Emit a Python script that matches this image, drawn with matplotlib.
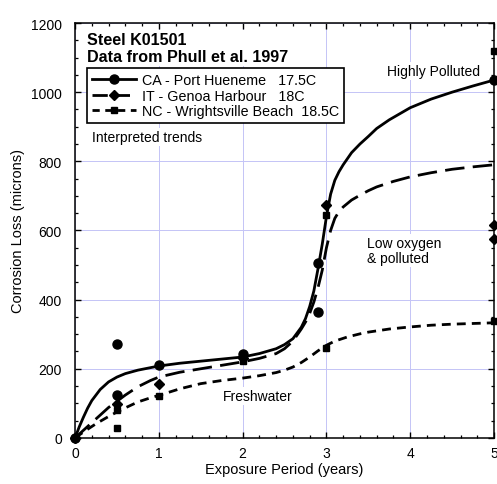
import matplotlib
matplotlib.use("Agg")
import matplotlib.pyplot as plt
from matplotlib.lines import Line2D
from matplotlib.ticker import MultipleLocator

plt.rcParams.update({
    "font.family": ["Liberation Sans", "DejaVu Sans"],
    "font.size": 10,
    "axes.linewidth": 1.1,
    "xtick.direction": "in",
    "ytick.direction": "in",
    "xtick.top": True,
    "ytick.right": True,
    "xtick.major.size": 4.5,
    "ytick.major.size": 4.5,
    "xtick.minor.size": 2.5,
    "ytick.minor.size": 2.5,
    "xtick.major.width": 1.0,
    "ytick.major.width": 1.0,
    "xtick.minor.width": 0.9,
    "ytick.minor.width": 0.9,
    "xtick.major.pad": 6,
    "ytick.major.pad": 9.5,
    "lines.solid_joinstyle": "round",
    "lines.dash_joinstyle": "round",
})

# measured data (years, microns)
ca_x = [0, 0.5, 0.5, 1, 2, 2.9, 2.9, 5]
ca_y = [0, 272, 123, 212, 242, 507, 364, 1035]
it_x = [0, 0.5, 1, 2, 3, 5, 5]
it_y = [0, 99, 157, 231, 673, 615, 574]
nc_x = [0, 0.5, 0.5, 1, 2, 3, 3, 5, 5]
nc_y = [0, 80, 29, 121, 223, 644, 260, 1120, 338]

# interpreted trend curves
ca_fit_x = [0, 0.05, 0.1, 0.15, 0.2, 0.3, 0.4, 0.5, 0.6, 0.75, 1, 1.25, 1.5, 1.75,
            2, 2.2, 2.4, 2.5, 2.6, 2.7, 2.75, 2.8, 2.85, 2.9, 2.95, 3.0, 3.05,
            3.1, 3.15, 3.2, 3.3, 3.4, 3.5, 3.6, 3.75, 4.0, 4.25, 4.5, 4.75, 5]
ca_fit_y = [0, 32, 60, 86, 108, 140, 162, 176, 186, 196, 208, 216, 222, 228,
            234, 244, 258, 270, 287, 320, 345, 380, 425, 490, 560, 640, 705,
            745, 770, 790, 825, 850, 872, 895, 920, 955, 980, 1000, 1018, 1035]
it_fit_x = [0, 0.1, 0.25, 0.4, 0.5, 0.6, 0.75, 0.9, 1, 1.25, 1.5, 1.75, 2, 2.2,
            2.4, 2.5, 2.6, 2.7, 2.75, 2.8, 2.85, 2.9, 2.95, 3.0, 3.05, 3.1, 3.15,
            3.2, 3.3, 3.4, 3.5, 3.6, 3.8, 4.0, 4.25, 4.5, 4.75, 5]
it_fit_y = [0, 22, 55, 88, 106, 124, 148, 166, 176, 190, 200, 210, 220, 230,
            244, 258, 280, 315, 335, 360, 393, 435, 485, 550, 600, 635, 655,
            668, 688, 702, 715, 726, 742, 755, 767, 777, 784, 790]
nc_fit_x = [0, 0.1, 0.25, 0.4, 0.5, 0.6, 0.75, 0.9, 1, 1.25, 1.5, 1.75, 2, 2.2,
            2.4, 2.5, 2.6, 2.7, 2.8, 2.9, 3.0, 3.1, 3.25, 3.4, 3.5, 3.75, 4.0,
            4.25, 4.5, 4.75, 5]
nc_fit_y = [0, 17, 41, 62, 75, 87, 104, 116, 123, 142, 157, 166, 173, 180,
            189, 196, 205, 218, 234, 252, 268, 280, 292, 301, 306, 315, 321,
            326, 329, 331, 333]

LONG = (7.0, 3.0)
SHORT = (3.2, 2.2)

fig = plt.figure(figsize=(4.97, 4.85), dpi=100)
ax = fig.add_axes([0.151, 0.095, 0.843, 0.8555])

ax.grid(True, which="major", color="#c4c4f6", linewidth=0.7)
ax.set_axisbelow(True)

ax.plot(ca_fit_x, ca_fit_y, color="black", linewidth=2.0)
ax.plot(it_fit_x, it_fit_y, color="black", linewidth=2.0, dashes=LONG)
ax.plot(nc_fit_x, nc_fit_y, color="black", linewidth=2.0, dashes=SHORT)

ax.plot(ca_x, ca_y, "o", color="black", markersize=6.5, clip_on=False, zorder=5)
ax.plot(it_x, it_y, "D", color="black", markersize=4.8, clip_on=False, zorder=5)
ax.plot(nc_x, nc_y, "s", color="black", markersize=4.8, clip_on=False, zorder=5)

ax.set_xlim(0, 5)
ax.set_ylim(0, 1200)
ax.xaxis.set_major_locator(MultipleLocator(1))
ax.xaxis.set_minor_locator(MultipleLocator(0.2))
ax.yaxis.set_major_locator(MultipleLocator(200))
ax.yaxis.set_minor_locator(MultipleLocator(50))
ax.set_xlabel("Exposure Period (years)", fontsize=10.5, labelpad=1)
ax.set_ylabel("Corrosion Loss (microns)", fontsize=10.5, labelpad=4)

white = dict(facecolor="white", edgecolor="none", pad=1.5)
ax.text(0.028, 0.978, "Steel K01501\nData from Phull et al. 1997", transform=ax.transAxes,
        fontsize=11.6, fontweight="bold", va="top", ha="left", linespacing=1.12, bbox=white)
ax.text(0.04, 0.725, "Interpreted trends", transform=ax.transAxes, fontsize=10,
        va="center", bbox=white)
ax.text(3.72, 1061, "Highly Polluted", fontsize=10, va="center", bbox=white)
ax.text(3.48, 541, "Low oxygen\n& polluted", fontsize=10, va="center",
        linespacing=1.1, bbox=white)
ax.text(1.76, 121, "Freshwater", fontsize=10, va="center", bbox=white)

handles = [
    Line2D([], [], color="black", linewidth=2.0, marker="o", markersize=6.5),
    Line2D([], [], color="black", linewidth=2.0, marker="D", markersize=4.8, dashes=(5.5, 2.5)),
    Line2D([], [], color="black", linewidth=2.0, marker="s", markersize=4.8, dashes=(2.6, 2.0)),
]
labels = ["CA - Port Hueneme   17.5C",
          "IT - Genoa Harbour   18C",
          "NC - Wrightsville Beach  18.5C"]
leg = ax.legend(handles, labels, loc="upper left", bbox_to_anchor=(0.028, 0.892),
                fontsize=10.3, frameon=True, fancybox=False, framealpha=1,
                edgecolor="black", handlelength=3.1, handletextpad=0.4,
                borderpad=0.35, labelspacing=0.12, borderaxespad=0)
leg.get_frame().set_linewidth(1.2)

fig.savefig("out.png", dpi=100)
